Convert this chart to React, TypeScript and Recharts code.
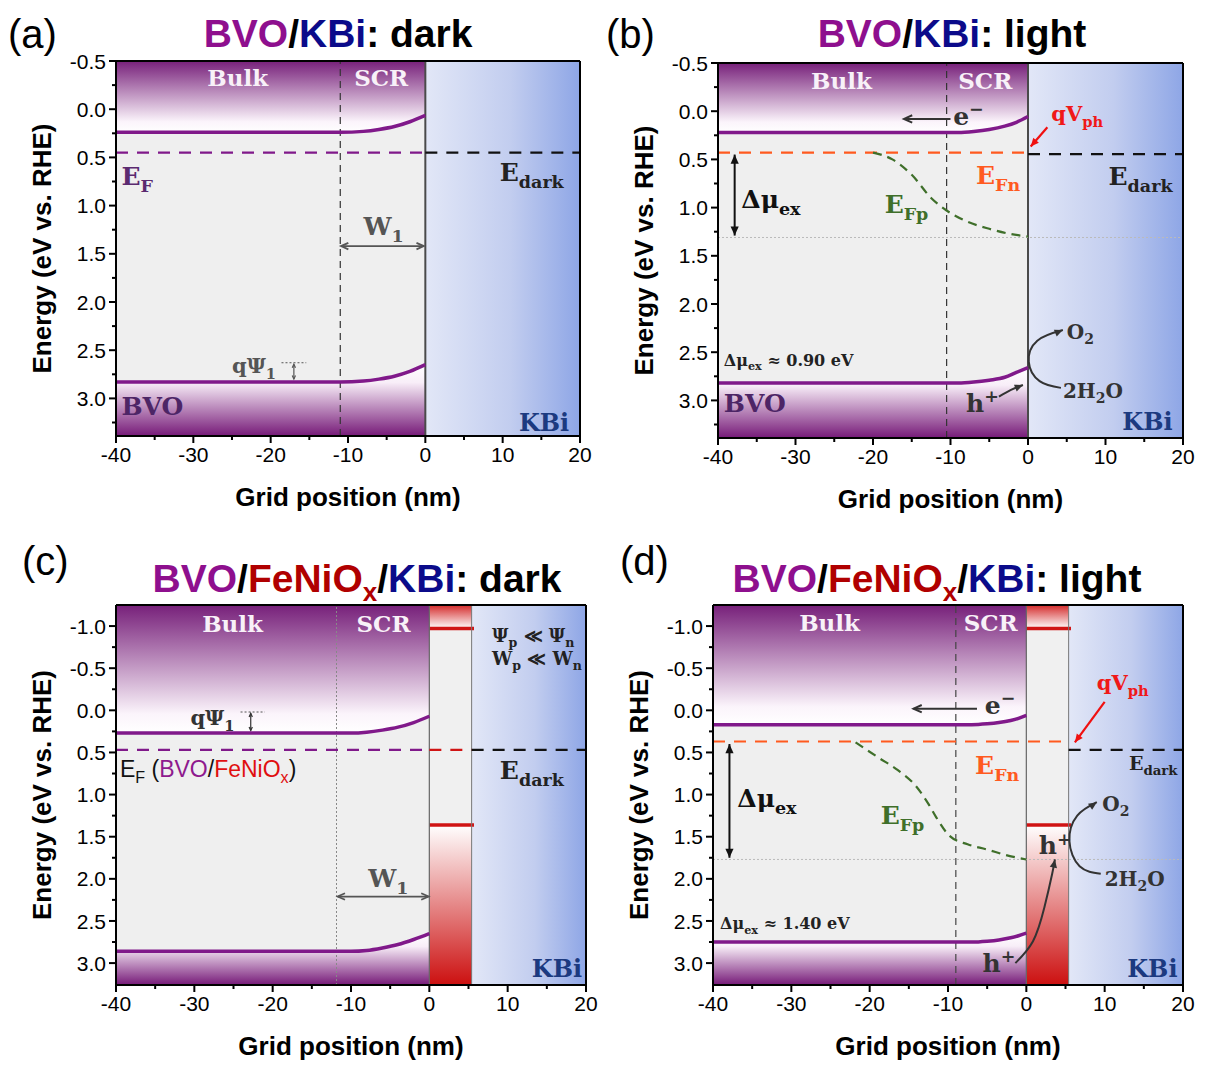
import React, { type ReactNode } from "react";
import {
  Area,
  ComposedChart,
  Line,
  ReferenceArea,
  ReferenceDot,
  ReferenceLine,
  XAxis,
  YAxis,
} from "recharts";

const SANS = "'Liberation Sans', Arial, sans-serif";
const SERIF = "'DejaVu Serif', 'Liberation Serif', serif";

const PURPLE = "#80198a";
const ORANGE = "#ff5a1f";
const GREEN = "#3f6f2a";
const RED = "#d01414";
const NAVY = "#1c3a80";
const GREY = "#555";

// axis ticks
const xMajor = [-40, -30, -20, -10, 0, 10, 20];
const xMinor = [-35, -25, -15, -5, 5, 15];
const yMajorTop = [-0.5, 0, 0.5, 1, 1.5, 2, 2.5, 3];
const yMinorTop = [-0.25, 0.25, 0.75, 1.25, 1.75, 2.25, 2.75, 3.25];
const yMajorBottom = [-1, -0.5, 0, 0.5, 1, 1.5, 2, 2.5, 3];
const yMinorBottom = [-0.75, -0.25, 0.25, 0.75, 1.25, 1.75, 2.25, 2.75];

// (a) BVO/KBi dark
const gridA = [-40, -11, -8, -6, -4, -2, 0];
const cbA = [0.24, 0.24, 0.23, 0.21, 0.18, 0.13, 0.065];
const vbA = [2.83, 2.83, 2.82, 2.8, 2.77, 2.72, 2.65];
const efA = 0.45;

// (b) BVO/KBi light
const gridB = [-40, -9, -7, -5, -3, -1.5, 0];
const cbB = [0.22, 0.22, 0.21, 0.19, 0.155, 0.115, 0.055];
const vbB = [2.82, 2.82, 2.81, 2.79, 2.76, 2.71, 2.66];
const efnB = 0.43;
const edarkB = 0.445;
const efpXB = [-20, -17.5, -15, -12.5, -10.5, -8, -5, -2.5, 0];
const efpB = [0.43, 0.5, 0.66, 0.9, 1.03, 1.14, 1.22, 1.27, 1.3];
const arcXB = [4.25, 1.5, 0.1, 1.2, 4.5];
const arcYB = [2.87, 2.8, 2.6, 2.38, 2.27];
const holeXB = [-3.75, -2.2, -0.65];
const holeYB = [2.96, 2.89, 2.84];

// (c) BVO/FeNiOx/KBi dark
const gridC = [-40, -10, -8, -6, -4, -2, 0];
const cbC = [0.27, 0.27, 0.26, 0.235, 0.2, 0.145, 0.07];
const vbC = [2.86, 2.86, 2.85, 2.82, 2.78, 2.72, 2.65];
const efC = 0.47;

// (d) BVO/FeNiOx/KBi light
const gridD = [-40, -7, -5, -3.5, -2, -1, 0];
const cbD = [0.17, 0.17, 0.16, 0.145, 0.12, 0.095, 0.06];
const vbD = [2.75, 2.75, 2.74, 2.725, 2.7, 2.675, 2.645];
const efnD = 0.37;
const edarkD = 0.47;
const efpXD = [-21.8, -18.9, -16.4, -14, -12.5, -11.5, -9.8, -7.5, -5.1, -2.1, 0];
const efpD = [0.38, 0.56, 0.71, 0.91, 1.11, 1.27, 1.49, 1.59, 1.65, 1.73, 1.77];
const arcXD = [9.5, 6.8, 5.5, 6.5, 9.0];
const arcYD = [1.94, 1.85, 1.55, 1.25, 1.09];
const holeXD = [-1.4, 0.85, 2.3, 3.3, 3.65];
const holeYD = [3.0, 2.74, 2.34, 1.94, 1.77];

// FeNiOx layer
const feniX = [0, 5.4];
const feniCB = -0.97;
const feniVB = 1.36;
const feniLevelEnd = 5.7;

const pts = (xs: number[], ys: number[]) => xs.map((x, i) => ({ x, y: ys[i] }));

type Seg = [string, ("sub" | "sup" | "")?, string?];
type NoteStyle = {
  size: number;
  fill: string;
  anchor?: "start" | "middle" | "end";
  font?: string;
  weight?: number;
};

function renderText(cx: number, cy: number, segs: Seg[], o: NoteStyle) {
  let shift = 0;
  return (
    <text
      x={cx}
      y={cy}
      fontFamily={o.font ?? SERIF}
      fontWeight={o.weight ?? 700}
      fontSize={o.size}
      fill={o.fill}
      textAnchor={o.anchor ?? "start"}
    >
      {segs.map(([t, kind, fill], i) => {
        const target =
          kind === "sub" ? o.size * 0.28 : kind === "sup" ? -o.size * 0.38 : 0;
        const dy = target - shift;
        shift = target;
        return (
          <tspan
            key={i}
            dy={dy}
            fontSize={kind ? o.size * 0.7 : o.size}
            fill={fill ?? o.fill}
          >
            {t}
          </tspan>
        );
      })}
    </text>
  );
}

function note(key: string, x: number, y: number, segs: Seg[], o: NoteStyle) {
  return (
    <ReferenceDot
      key={key}
      x={x}
      y={y}
      r={0}
      ifOverflow="visible"
      shape={(p: any) => renderText(p.cx, p.cy, segs, o)}
    />
  );
}

function arrow(
  color: string,
  width: number,
  mode: "end" | "both" | "head",
  size = 8,
  filled = false,
) {
  return (p: any) => {
    const { x1, y1, x2, y2 } = p;
    const a = Math.atan2(y2 - y1, x2 - x1);
    const head = (x: number, y: number, ang: number) => {
      const l = `${x - size * Math.cos(ang - 0.42)},${y - size * Math.sin(ang - 0.42)}`;
      const r = `${x - size * Math.cos(ang + 0.42)},${y - size * Math.sin(ang + 0.42)}`;
      return filled ? (
        <polygon points={`${l} ${x},${y} ${r}`} fill={color} />
      ) : (
        <polyline
          points={`${l} ${x},${y} ${r}`}
          fill="none"
          stroke={color}
          strokeWidth={width}
        />
      );
    };
    return (
      <g>
        {mode !== "head" && (
          <line x1={x1} y1={y1} x2={x2} y2={y2} stroke={color} strokeWidth={width} />
        )}
        {head(x2, y2, a)}
        {mode === "both" && head(x1, y1, a + Math.PI)}
      </g>
    );
  };
}

function seg(
  key: string,
  xa: number,
  ya: number,
  xb: number,
  yb: number,
  props: Record<string, unknown>,
) {
  return (
    <ReferenceLine
      key={key}
      segment={[
        { x: xa, y: ya },
        { x: xb, y: yb },
      ]}
      ifOverflow="visible"
      {...props}
    />
  );
}

function curvedArrow(key: string, xs: number[], ys: number[], color: string) {
  const n = xs.length;
  return [
    <Line
      key={key}
      data={pts(xs, ys)}
      dataKey="y"
      type="natural"
      stroke={color}
      strokeWidth={2}
      dot={false}
      activeDot={false}
      isAnimationActive={false}
    />,
    seg(key + "-h", xs[n - 2], ys[n - 2], xs[n - 1], ys[n - 1], {
      shape: arrow(color, 2, "head", 9, true),
    }),
  ];
}

function yTick(major: number[]) {
  return (p: any) => {
    const v = p.payload.value as number;
    const isMajor = major.some((m) => Math.abs(m - v) < 1e-9);
    return (
      <g>
        <line
          x1={p.x}
          x2={p.x - (isMajor ? 7 : 4)}
          y1={p.y}
          y2={p.y}
          stroke="#000"
          strokeWidth={2}
        />
        {isMajor && (
          <text
            x={p.x - 10}
            y={p.y}
            dy="0.36em"
            textAnchor="end"
            fontFamily={SANS}
            fontSize={21}
            fill="#000"
          >
            {v.toFixed(1)}
          </text>
        )}
      </g>
    );
  };
}

const xTick = (p: any) => {
  const v = p.payload.value as number;
  const isMajor = xMajor.includes(v);
  return (
    <g>
      <line
        x1={p.x}
        x2={p.x}
        y1={p.y}
        y2={p.y + (isMajor ? 7 : 4)}
        stroke="#000"
        strokeWidth={2}
      />
      {isMajor && (
        <text
          x={p.x}
          y={p.y + 26}
          textAnchor="middle"
          fontFamily={SANS}
          fontSize={21}
          fill="#000"
        >
          {String(v)}
        </text>
      )}
    </g>
  );
};

const xLabel = (p: any) => {
  const vb = p.viewBox;
  return (
    <text
      x={vb.x + vb.width / 2}
      y={vb.y + 70}
      textAnchor="middle"
      fontFamily={SANS}
      fontWeight={700}
      fontSize={26}
    >
      Grid position (nm)
    </text>
  );
};

const yLabel = (p: any) => {
  const vb = p.viewBox;
  const x = vb.x + vb.width - 74;
  const y = vb.y + vb.height / 2;
  return (
    <text
      x={x}
      y={y}
      transform={`rotate(-90 ${x} ${y})`}
      textAnchor="middle"
      dominantBaseline="central"
      fontFamily={SANS}
      fontWeight={700}
      fontSize={26}
    >
      Energy (eV vs. RHE)
    </text>
  );
};

type PanelProps = {
  id: string;
  left: number;
  top: number;
  width: number;
  height: number;
  plot: { l: number; r: number; t: number; b: number };
  yDomain: [number, number];
  yMajor: number[];
  yMinor: number[];
  grid: number[];
  cb: number[];
  vb: number[];
  background: ReactNode;
  children: ReactNode;
};

function Panel(p: PanelProps) {
  const rows = p.grid.map((x, i) => ({
    x,
    cb: p.cb[i],
    vb: p.vb[i],
    upper: [p.yDomain[0], p.cb[i]],
    lower: [p.vb[i], p.yDomain[1]],
  }));
  const yTicks = [...p.yMajor, ...p.yMinor].sort((a, b) => a - b);
  const xTicks = [...xMajor, ...xMinor].sort((a, b) => a - b);
  const g = (n: string) => `url(#${p.id}-${n})`;
  return (
    <div style={{ position: "absolute", left: p.left, top: p.top }}>
      <ComposedChart
        width={p.width}
        height={p.height}
        margin={{
          top: p.plot.t - 1,
          left: p.plot.l - 70,
          right: p.width - p.plot.r - 1,
          bottom: p.height - p.plot.b - 40,
        }}
      >
        <defs>
          <linearGradient id={`${p.id}-pTop`} x1="0" y1="0" x2="0" y2="1">
            <stop offset="0" stopColor="#77207a" />
            <stop offset="0.85" stopColor="#fbf4fb" />
            <stop offset="1" stopColor="#ffffff" />
          </linearGradient>
          <linearGradient id={`${p.id}-pBot`} x1="0" y1="0" x2="0" y2="1">
            <stop offset="0" stopColor="#ffffff" />
            <stop offset="0.25" stopColor="#f8eef8" />
            <stop offset="1" stopColor="#761a78" />
          </linearGradient>
          <linearGradient id={`${p.id}-blue`} x1="0" y1="0" x2="1" y2="0">
            <stop offset="0" stopColor="#e2e7f7" />
            <stop offset="0.55" stopColor="#c2cdef" />
            <stop offset="1" stopColor="#8ea6e6" />
          </linearGradient>
          <linearGradient id={`${p.id}-rTop`} x1="0" y1="0" x2="0" y2="1">
            <stop offset="0" stopColor="#d42a2a" />
            <stop offset="1" stopColor="#ffffff" />
          </linearGradient>
          <linearGradient id={`${p.id}-rBot`} x1="0" y1="0" x2="0" y2="1">
            <stop offset="0" stopColor="#ffffff" />
            <stop offset="1" stopColor="#cc1010" />
          </linearGradient>
        </defs>
        <XAxis
          type="number"
          dataKey="x"
          domain={[-40, 20]}
          allowDataOverflow
          ticks={xTicks}
          interval={0}
          tick={xTick}
          tickSize={0}
          tickMargin={0}
          tickLine={false}
          axisLine={{ stroke: "#000", strokeWidth: 2 }}
          height={40}
          label={{ content: xLabel }}
        />
        <XAxis
          xAxisId="top"
          orientation="top"
          type="number"
          domain={[-40, 20]}
          allowDataOverflow
          tick={false}
          tickLine={false}
          axisLine={{ stroke: "#000", strokeWidth: 2 }}
          height={1}
        />
        <YAxis
          type="number"
          domain={p.yDomain}
          reversed
          allowDataOverflow
          ticks={yTicks}
          interval={0}
          tick={yTick(p.yMajor)}
          tickSize={0}
          tickMargin={0}
          tickLine={false}
          axisLine={{ stroke: "#000", strokeWidth: 2 }}
          width={70}
          label={{ content: yLabel }}
        />
        <YAxis
          yAxisId="right"
          orientation="right"
          type="number"
          domain={p.yDomain}
          reversed
          allowDataOverflow
          tick={false}
          tickLine={false}
          axisLine={{ stroke: "#000", strokeWidth: 2 }}
          width={1}
        />
        {p.background}
        <Area
          data={rows}
          dataKey="upper"
          type="monotone"
          stroke="none"
          fill={g("pTop")}
          fillOpacity={1}
          isAnimationActive={false}
        />
        <Area
          data={rows}
          dataKey="lower"
          type="monotone"
          stroke="none"
          fill={g("pBot")}
          fillOpacity={1}
          isAnimationActive={false}
        />
        {p.children}
        <Line
          data={rows}
          dataKey="cb"
          type="monotone"
          stroke={PURPLE}
          strokeWidth={3.5}
          dot={false}
          activeDot={false}
          isAnimationActive={false}
        />
        <Line
          data={rows}
          dataKey="vb"
          type="monotone"
          stroke={PURPLE}
          strokeWidth={3.5}
          dot={false}
          activeDot={false}
          isAnimationActive={false}
        />
      </ComposedChart>
    </div>
  );
}

function feniLayer(id: string, yDomain: [number, number]) {
  const top = feniX.map((x) => ({ x, r: [yDomain[0], feniCB] }));
  const bot = feniX.map((x) => ({ x, r: [feniVB, yDomain[1]] }));
  return [
    <Area
      key="ft"
      data={top}
      dataKey="r"
      type="linear"
      stroke="none"
      fill={`url(#${id}-rTop)`}
      fillOpacity={1}
      isAnimationActive={false}
    />,
    <Area
      key="fb"
      data={bot}
      dataKey="r"
      type="linear"
      stroke="none"
      fill={`url(#${id}-rBot)`}
      fillOpacity={1}
      isAnimationActive={false}
    />,
    seg("fl1", feniX[0], feniCB, feniLevelEnd, feniCB, { stroke: RED, strokeWidth: 3.5 }),
    seg("fl2", feniX[0], feniVB, feniLevelEnd, feniVB, { stroke: RED, strokeWidth: 3.5 }),
  ];
}

const dash = { strokeDasharray: "12 9", strokeWidth: 2.2 };
const big = (fill: string): NoteStyle => ({ size: 25, fill });
const bulkStyle: NoteStyle = { size: 23, fill: "#f8f1f8" };

function Title(props: { x: number; y: number; children: ReactNode }) {
  return (
    <div
      style={{
        position: "absolute",
        left: props.x - 300,
        top: props.y,
        width: 600,
        textAlign: "center",
        fontFamily: SANS,
        fontWeight: 700,
        fontSize: 39,
        lineHeight: "40px",
        whiteSpace: "nowrap",
      }}
    >
      {props.children}
    </div>
  );
}

function Tag(props: { x: number; y: number; t: string }) {
  return (
    <div
      style={{
        position: "absolute",
        left: props.x,
        top: props.y,
        fontFamily: SANS,
        fontSize: 40,
        lineHeight: "40px",
      }}
    >
      {props.t}
    </div>
  );
}

const subX = (
  <span style={{ fontSize: 26, position: "relative", top: 9 }}>x</span>
);

export default function App() {
  return (
    <div
      style={{
        position: "absolute",
        left: 0,
        top: 0,
        width: 1208,
        height: 1065,
        background: "#fff",
      }}
    >
      {/* (a) */}
      <Panel
        id="a"
        left={0}
        top={0}
        width={600}
        height={530}
        plot={{ l: 116, r: 580, t: 61, b: 436 }}
        yDomain={[-0.5, 3.39]}
        yMajor={yMajorTop}
        yMinor={yMinorTop}
        grid={gridA}
        cb={cbA}
        vb={vbA}
        background={[
          <ReferenceArea key="bg1" x1={-40} x2={0} fill="#efefef" fillOpacity={1} />,
          <ReferenceArea key="bg2" x1={0} x2={20} fill="url(#a-blue)" fillOpacity={1} />,
        ]}
      >
        <ReferenceLine x={-11} stroke="#333" strokeDasharray="7 5" strokeWidth={1.2} />
        <ReferenceLine x={0} stroke="#4a4a4a" strokeWidth={2} />
        {seg("ef", -40, efA, 0, efA, { stroke: PURPLE, ...dash })}
        {seg("ed", 0, efA, 20, efA, { stroke: "#111", ...dash })}
        {seg("w1", -10.9, 1.42, -0.2, 1.42, { shape: arrow(GREY, 1.8, "both", 8) })}
        {seg("qd", -18.6, 2.63, -15.4, 2.63, { stroke: GREY, strokeDasharray: "2 2", strokeWidth: 1 })}
        {seg("qa", -17, 2.645, -17, 2.8, { shape: arrow(GREY, 1.2, "both", 4) })}
        {note("bulk", -28.2, -0.24, [["Bulk"]], bulkStyle)}
        {note("scr", -9.2, -0.24, [["SCR"]], bulkStyle)}
        {note("ef", -39.3, 0.79, [["E"], ["F", "sub"]], big("#5b2a70"))}
        {note("edark", 17.9, 0.74, [["E"], ["dark", "sub"]], { ...big("#222"), anchor: "end" })}
        {note("w1", -8, 1.31, [["W"], ["1", "sub"]], big(GREY))}
        {note("qpsi", -25, 2.74, [["qΨ"], ["1", "sub"]], { size: 21, fill: GREY })}
        {note("bvo", -39.3, 3.17, [["BVO"]], { size: 25, fill: "#4d2566" })}
        {note("kbi", 18.6, 3.34, [["KBi"]], { size: 24, fill: NAVY, anchor: "end" })}
      </Panel>

      {/* (b) */}
      <Panel
        id="b"
        left={600}
        top={0}
        width={608}
        height={530}
        plot={{ l: 118, r: 583, t: 63, b: 438 }}
        yDomain={[-0.5, 3.39]}
        yMajor={yMajorTop}
        yMinor={yMinorTop}
        grid={gridB}
        cb={cbB}
        vb={vbB}
        background={[
          <ReferenceArea key="bg1" x1={-40} x2={0} fill="#efefef" fillOpacity={1} />,
          <ReferenceArea key="bg2" x1={0} x2={20} fill="url(#b-blue)" fillOpacity={1} />,
        ]}
      >
        <ReferenceLine x={-10.5} stroke="#333" strokeDasharray="7 5" strokeWidth={1.2} />
        <ReferenceLine x={0} stroke="#4a4a4a" strokeWidth={2} />
        <ReferenceLine y={1.31} stroke="#bbb" strokeDasharray="2 2" strokeWidth={1} />
        {seg("efn", -40, efnB, 0, efnB, { stroke: ORANGE, ...dash })}
        {seg("ed", 0, edarkB, 20, edarkB, { stroke: "#111", ...dash })}
        <Line
          data={pts(efpXB, efpB)}
          dataKey="y"
          type="monotone"
          stroke={GREEN}
          strokeWidth={2.2}
          strokeDasharray="9 6"
          dot={false}
          activeDot={false}
          isAnimationActive={false}
        />
        {seg("dmu", -37.85, efnB + 0.02, -37.85, 1.29, { shape: arrow("#111", 2, "both", 10, true) })}
        {seg("eminus", -10, 0.08, -16, 0.08, { shape: arrow("#333", 2, "end", 9) })}
        {seg("qv", 2.5, 0.166, 0.35, 0.366, { shape: arrow("#f01010", 2.2, "end", 9, true) })}
        {curvedArrow("arc", arcXB, arcYB, "#333")}
        {curvedArrow("hole", holeXB, holeYB, "#333")}
        {note("bulk", -28, -0.23, [["Bulk"]], bulkStyle)}
        {note("scr", -9, -0.23, [["SCR"]], bulkStyle)}
        {note("e", -9.65, 0.14, [["e"], ["−", "sup"]], big("#333"))}
        {note("qv", 3, 0.1, [["qV"], ["ph", "sub"]], { size: 21, fill: "#f01818" })}
        {note("efn", -1, 0.75, [["E"], ["Fn", "sub"]], { ...big(ORANGE), anchor: "end" })}
        {note("edark", 18.65, 0.77, [["E"], ["dark", "sub"]], { ...big("#222"), anchor: "end" })}
        {note("dmu", -37, 1.0, [["Δμ"], ["ex", "sub"]], big("#111"))}
        {note("efp", -18.5, 1.06, [["E"], ["Fp", "sub"]], big(GREEN))}
        {note("val", -39.25, 2.64, [["Δμ"], ["ex", "sub"], [" ≈ 0.90 eV"]], { size: 16, fill: "#222" })}
        {note("bvo", -39.25, 3.12, [["BVO"]], { size: 25, fill: "#4d2566" })}
        {note("h", -8, 3.12, [["h"], ["+", "sup"]], big("#333"))}
        {note("o2", 5, 2.36, [["O"], ["2", "sub"]], { size: 20, fill: "#333" })}
        {note("h2o", 4.5, 2.97, [["2H"], ["2", "sub"], ["O"]], { size: 20, fill: "#333" })}
        {note("kbi", 18.65, 3.31, [["KBi"]], { size: 24, fill: NAVY, anchor: "end" })}
      </Panel>

      {/* (c) */}
      <Panel
        id="c"
        left={0}
        top={530}
        width={600}
        height={535}
        plot={{ l: 116, r: 586, t: 75, b: 455 }}
        yDomain={[-1.25, 3.26]}
        yMajor={yMajorBottom}
        yMinor={yMinorBottom}
        grid={gridC}
        cb={cbC}
        vb={vbC}
        background={[
          <ReferenceArea key="bg1" x1={-40} x2={0} fill="#efefef" fillOpacity={1} />,
          <ReferenceArea key="bg2" x1={0} x2={feniX[1]} fill="#f0f0f0" fillOpacity={1} />,
          <ReferenceArea key="bg3" x1={feniX[1]} x2={20} fill="url(#c-blue)" fillOpacity={1} />,
        ]}
      >
        {feniLayer("c", [-1.25, 3.26])}
        <ReferenceLine x={-11.85} stroke="#888" strokeDasharray="2 2" strokeWidth={1} />
        <ReferenceLine x={0} stroke="#666" strokeWidth={1.2} />
        <ReferenceLine x={feniX[1]} stroke="#777" strokeWidth={1} />
        {seg("ef", -40, efC, 0, efC, { stroke: PURPLE, ...dash })}
        {seg("ef2", 0, efC, feniX[1], efC, { stroke: RED, ...dash })}
        {seg("ed", feniX[1], efC, 20, efC, { stroke: "#111", ...dash })}
        {seg("w1", -11.7, 2.21, -0.1, 2.21, { shape: arrow(GREY, 1.8, "both", 8) })}
        {seg("qd", -24.1, 0.02, -21, 0.02, { stroke: GREY, strokeDasharray: "2 2", strokeWidth: 1 })}
        {seg("qa", -22.8, 0.035, -22.8, 0.24, { shape: arrow("#333", 1.2, "both", 4) })}
        {note("bulk", -29, -0.93, [["Bulk"]], bulkStyle)}
        {note("scr", -9.3, -0.93, [["SCR"]], bulkStyle)}
        {note("psi", 8, -0.81, [["Ψ"], ["p", "sub"], [" ≪ Ψ"], ["n", "sub"]], { size: 18, fill: "#222" })}
        {note("wp", 8, -0.54, [["W"], ["p", "sub"], [" ≪ W"], ["n", "sub"]], { size: 18, fill: "#222" })}
        {note("qpsi", -30.5, 0.18, [["qΨ"], ["1", "sub"]], { size: 21, fill: "#333" })}
        {note(
          "ef",
          -39.5,
          0.79,
          [["E"], ["F", "sub"], [" ("], ["BVO", "", "#8e1a8e"], ["/"], ["FeNiO", "", "#e01010"], ["x", "sub", "#e01010"], [")"]],
          { size: 23, fill: "#111", font: SANS, weight: 400 },
        )}
        {note("edark", 9, 0.81, [["E"], ["dark", "sub"]], big("#222"))}
        {note("w1", -7.8, 2.1, [["W"], ["1", "sub"]], big(GREY))}
        {note("kbi", 19.5, 3.17, [["KBi"]], { size: 24, fill: NAVY, anchor: "end" })}
      </Panel>

      {/* (d) */}
      <Panel
        id="d"
        left={600}
        top={530}
        width={608}
        height={535}
        plot={{ l: 113, r: 583, t: 75, b: 455 }}
        yDomain={[-1.25, 3.26]}
        yMajor={yMajorBottom}
        yMinor={yMinorBottom}
        grid={gridD}
        cb={cbD}
        vb={vbD}
        background={[
          <ReferenceArea key="bg1" x1={-40} x2={0} fill="#efefef" fillOpacity={1} />,
          <ReferenceArea key="bg2" x1={0} x2={feniX[1]} fill="#f0f0f0" fillOpacity={1} />,
          <ReferenceArea key="bg3" x1={feniX[1]} x2={20} fill="url(#d-blue)" fillOpacity={1} />,
        ]}
      >
        {feniLayer("d", [-1.25, 3.26])}
        <ReferenceLine x={-9} stroke="#444" strokeDasharray="7 5" strokeWidth={1.2} />
        <ReferenceLine x={0} stroke="#666" strokeWidth={1.2} />
        <ReferenceLine x={feniX[1]} stroke="#777" strokeWidth={1} />
        <ReferenceLine y={1.77} stroke="#bbb" strokeDasharray="2 2" strokeWidth={1} />
        {seg("efn", -40, efnD, feniX[1], efnD, { stroke: ORANGE, ...dash })}
        {seg("ed", feniX[1], edarkD, 20, edarkD, { stroke: "#111", ...dash })}
        <Line
          data={pts(efpXD, efpD)}
          dataKey="y"
          type="monotone"
          stroke={GREEN}
          strokeWidth={2.2}
          strokeDasharray="9 6"
          dot={false}
          activeDot={false}
          isAnimationActive={false}
        />
        {seg("dmu", -37.9, efnD + 0.03, -37.9, 1.75, { shape: arrow("#111", 2, "both", 10, true) })}
        {seg("eminus", -6.3, -0.02, -14.4, -0.02, { shape: arrow("#333", 2, "end", 9) })}
        {seg("qv", 10, -0.1, 6.2, 0.38, { shape: arrow("#f01010", 2.2, "end", 9, true) })}
        {curvedArrow("arc", arcXD, arcYD, "#333")}
        {curvedArrow("hole", holeXD, holeYD, "#333")}
        {note("bulk", -29, -0.94, [["Bulk"]], bulkStyle)}
        {note("scr", -8, -0.94, [["SCR"]], bulkStyle)}
        {note("e", -5.3, 0.04, [["e"], ["−", "sup"]], big("#333"))}
        {note("qv", 9, -0.24, [["qV"], ["ph", "sub"]], { size: 21, fill: "#f01818" })}
        {note("efn", -0.9, 0.75, [["E"], ["Fn", "sub"]], { ...big(ORANGE), anchor: "end" })}
        {note("edark", 19.3, 0.71, [["E"], ["dark", "sub"]], { size: 19, fill: "#222", anchor: "end" })}
        {note("dmu", -36.9, 1.15, [["Δμ"], ["ex", "sub"]], big("#111"))}
        {note("efp", -18.6, 1.35, [["E"], ["Fp", "sub"]], big(GREEN))}
        {note("h1", 1.6, 1.71, [["h"], ["+", "sup"]], big("#333"))}
        {note("o2", 9.7, 1.19, [["O"], ["2", "sub"]], { size: 20, fill: "#333" })}
        {note("h2o", 10, 2.08, [["2H"], ["2", "sub"], ["O"]], { size: 20, fill: "#333" })}
        {note("val", -39.1, 2.6, [["Δμ"], ["ex", "sub"], [" ≈ 1.40 eV"]], { size: 16, fill: "#222" })}
        {note("h2", -5.6, 3.1, [["h"], ["+", "sup"]], big("#333"))}
        {note("kbi", 19.3, 3.17, [["KBi"]], { size: 24, fill: NAVY, anchor: "end" })}
      </Panel>

      <Tag x={8} y={14} t="(a)" />
      <Tag x={606} y={14} t="(b)" />
      <Tag x={22} y={541} t="(c)" />
      <Tag x={620} y={541} t="(d)" />
      <Title x={338} y={14}>
        <span style={{ color: "#8e0f8e" }}>BVO</span>/
        <span style={{ color: "#0b0b8a" }}>KBi</span>: dark
      </Title>
      <Title x={952} y={14}>
        <span style={{ color: "#8e0f8e" }}>BVO</span>/
        <span style={{ color: "#0b0b8a" }}>KBi</span>: light
      </Title>
      <Title x={357} y={559}>
        <span style={{ color: "#8e0f8e" }}>BVO</span>/
        <span style={{ color: "#b00000" }}>FeNiO{subX}</span>/
        <span style={{ color: "#0b0b8a" }}>KBi</span>: dark
      </Title>
      <Title x={937} y={559}>
        <span style={{ color: "#8e0f8e" }}>BVO</span>/
        <span style={{ color: "#b00000" }}>FeNiO{subX}</span>/
        <span style={{ color: "#0b0b8a" }}>KBi</span>: light
      </Title>
    </div>
  );
}
